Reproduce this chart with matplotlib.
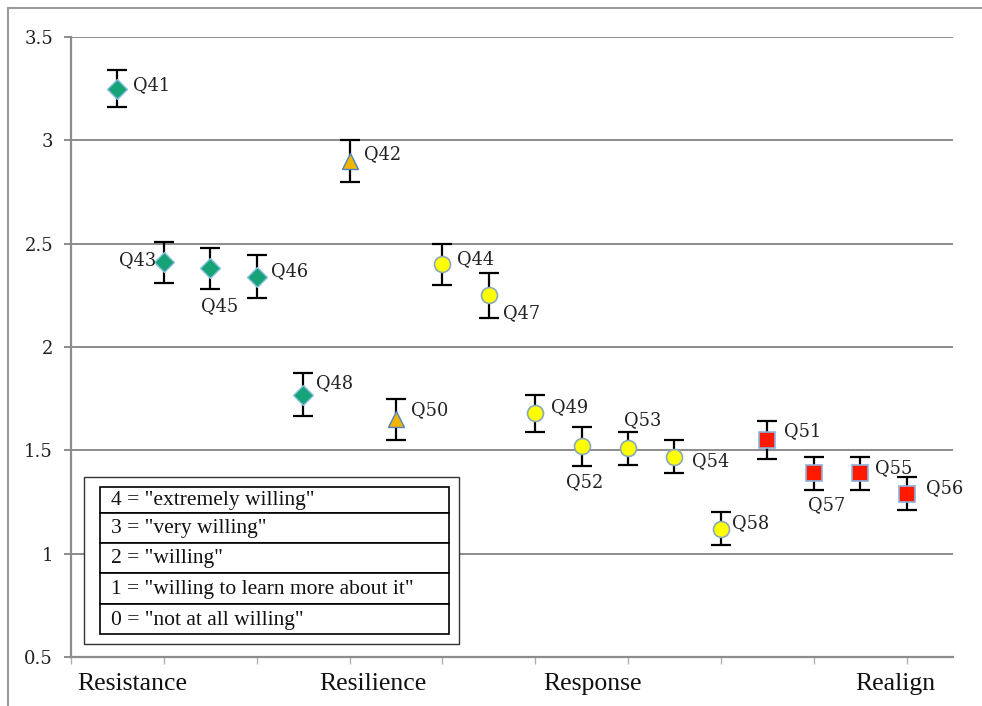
import matplotlib
matplotlib.use("Agg")
import matplotlib.pyplot as plt
from matplotlib.patches import Rectangle
from matplotlib.lines import Line2D

# ---- data ----
questions = ["Q41", "Q43", "Q45", "Q46", "Q48", "Q42", "Q50", "Q44", "Q47",
             "Q49", "Q52", "Q53", "Q54", "Q58", "Q51", "Q57", "Q55", "Q56"]
x_pos = [0.5, 1.0, 1.5, 2.0, 2.5, 3.0, 3.5, 4.0, 4.5,
         5.0, 5.5, 6.0, 6.5, 7.0, 7.5, 8.0, 8.5, 9.0]
means = [3.25, 2.41, 2.38, 2.34, 1.77, 2.90, 1.65, 2.40, 2.25,
         1.68, 1.52, 1.51, 1.47, 1.12, 1.55, 1.39, 1.39, 1.29]
errors = [0.09, 0.10, 0.10, 0.105, 0.105, 0.10, 0.10, 0.10, 0.11,
          0.09, 0.095, 0.08, 0.08, 0.08, 0.09, 0.08, 0.08, 0.08]
groups = ["diamond", "diamond", "diamond", "diamond", "diamond", "triangle", "triangle",
          "circle", "circle", "circle", "circle", "circle", "circle", "circle",
          "square", "square", "square", "square"]

category_labels = ["Resistance", "Resilience", "Response", "Realign"]
category_x = [0.66, 3.25, 5.62, 8.88]

y_ticks = [0.5, 1, 1.5, 2, 2.5, 3, 3.5]
y_tick_labels = ["0.5", "1", "1.5", "2", "2.5", "3", "3.5"]

scale_legend = ['4 = "extremely willing"', '3 = "very willing"', '2 = "willing"',
                '1 = "willing to learn more about it"', '0 = "not at all willing"']

# ---- styles ----
styles = {
    "diamond":  dict(marker="D", ms=10.5, mfc="#17a378", mec="#8cc0e0", mew=1.0),
    "triangle": dict(marker="^", ms=12, mfc="#f2b600", mec="#4f81bd", mew=1.0),
    "circle":   dict(marker="o", ms=11.5, mfc="#ffff00", mec="#8aa8b8", mew=1.2),
    "square":   dict(marker="s", ms=11, mfc="#ff1a00", mec="#8db3e2", mew=1.2),
}
# label offsets in pixels (dx, dy) and alignment
label_off = {
    "Q41": (16, 4, "left"), "Q43": (-8, 2, "right"), "Q45": (9, -38, "center"),
    "Q46": (14, 6, "left"), "Q48": (13, 11, "left"), "Q42": (14, 7, "left"),
    "Q50": (15, 9, "left"), "Q44": (15, 5, "left"), "Q47": (14, -18, "left"),
    "Q49": (16, 6, "left"), "Q52": (3, -36, "center"), "Q53": (15, 28, "center"),
    "Q54": (18, -5, "left"), "Q58": (11, 6, "left"), "Q51": (17, 9, "left"),
    "Q57": (13, -32, "center"), "Q55": (15, 5, "left"), "Q56": (19, 6, "left"),
}

W, H = 982, 706
fig = plt.figure(figsize=(W / 100, H / 100), dpi=100)
fig.patch.set_facecolor("white")

def fx(px):
    return px / W

def fy(py):
    return 1 - py / H

ax = fig.add_axes([fx(71), fy(657), fx(953) - fx(71), fy(37) - fy(657)])
ax.set_xlim(0, 9.5)
ax.set_ylim(0.5, 3.5)

grid_c = "#8c8c8c"
for yv in y_ticks[1:]:
    ax.axhline(yv, color=grid_c, lw=1.4, zorder=1)

for s in ["top", "right"]:
    ax.spines[s].set_visible(False)
for s in ["left", "bottom"]:
    ax.spines[s].set_color(grid_c)
    ax.spines[s].set_linewidth(1.6)

ax.set_yticks(y_ticks)
ax.set_yticklabels(y_tick_labels, family="DejaVu Serif", fontsize=13, color="#222222")
ax.tick_params(axis="y", length=5, width=1.4, color=grid_c, pad=8)
ax.set_xticks(range(0, 10))
ax.set_xticklabels([])
ax.tick_params(axis="x", length=5, width=1.0, color="#b0b0b0")

for q, x, m, e, g in zip(questions, x_pos, means, errors, groups):
    st = styles[g]
    ax.errorbar([x], [m], yerr=[e], fmt="none", ecolor="black", elinewidth=1.6,
                capsize=7, capthick=1.6, zorder=3)
    ax.plot([x], [m], linestyle="none", zorder=4, **st)
    dx, dy, ha = label_off[q]
    ax.annotate(q, (x, m), xytext=(dx, dy), textcoords="offset pixels",
                ha=ha, va="center", family="DejaVu Serif", fontsize=12.8,
                color="#222222", zorder=5)

label_y = 0.5 - (684 - 657) / 620 * 3.0
for lab, cx in zip(category_labels, category_x):
    ax.text(cx, label_y, lab, ha="center", va="center", family="Liberation Serif",
            fontsize=18.5, color="#111111", clip_on=False)

# legend table (outer white box)
outer = Rectangle((fx(84), fy(644)), fx(459) - fx(84), fy(477) - fy(644),
                  transform=fig.transFigure, facecolor="white", edgecolor="#333333",
                  lw=1.0, zorder=10)
fig.add_artist(outer)
row_edges = [487, 513, 543, 573, 604, 634]
for i, txt in enumerate(scale_legend):
    top, bot = row_edges[i], row_edges[i + 1]
    r = Rectangle((fx(100), fy(bot)), fx(449) - fx(100), fy(top) - fy(bot),
                  transform=fig.transFigure, facecolor="white", edgecolor="black",
                  lw=1.2, zorder=11)
    fig.add_artist(r)
    fig.text(fx(111), fy((top + bot) / 2 + 1), txt, ha="left", va="center",
             family="Liberation Serif", fontsize=15.5, color="#111111", zorder=12)

# outer frame of picture
fig.add_artist(Line2D([fx(8), fx(982)], [fy(8), fy(8)], transform=fig.transFigure,
                      color="#9a9a9a", lw=1.5))
fig.add_artist(Line2D([fx(8), fx(8)], [fy(8), fy(706)], transform=fig.transFigure,
                      color="#9a9a9a", lw=1.5))

fig.savefig("out.png", dpi=100)
